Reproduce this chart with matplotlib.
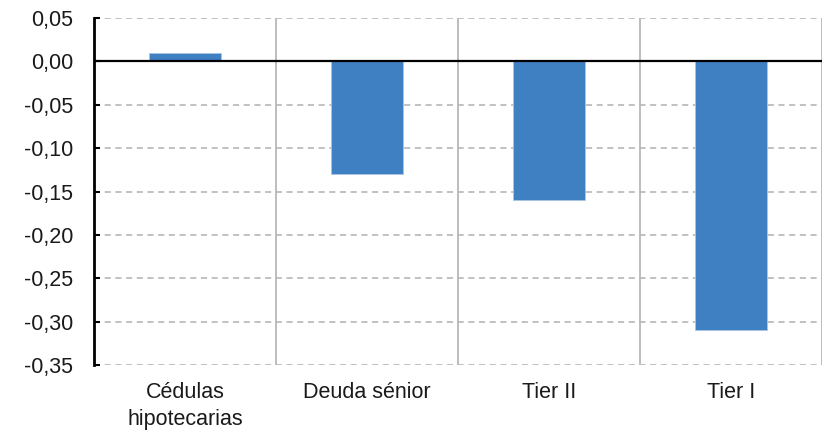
import numpy as np
import matplotlib.pyplot as plt

categorias = ['Cédulas\nhipotecarias', 'Deuda sénior', 'Tier II', 'Tier I']
valores = [0.01, -0.13, -0.16, -0.31]
yticks = [0.05, 0.00, -0.05, -0.10, -0.15, -0.20, -0.25, -0.30, -0.35]

plt.rcParams['font.family'] = ['Liberation Sans', 'DejaVu Sans']

fig = plt.figure(figsize=(8.27, 4.32), dpi=100)
ax = fig.add_axes([94/827, 1 - 365/432, 728/827, 347/432])

x = np.arange(len(categorias))
ax.set_xlim(-0.5, len(categorias) - 0.5)
ax.set_ylim(-0.35, 0.05)

for y in yticks:
    ax.axhline(y, color='#b0b0b0', linestyle=(0, (4, 3)), linewidth=1.1, zorder=1)
for b in np.arange(0.5, len(categorias), 1.0):
    ax.axvline(b, color='#b8b8b8', linewidth=1.3, zorder=1)

ax.bar(x, valores, width=0.4, color='#3f80c3', edgecolor='#a9c6e6', linewidth=0.6, zorder=2)
ax.axhline(0, color='black', linewidth=1.6, zorder=3)

ax.set_yticks(yticks)
ax.set_yticklabels([f'{v:.2f}'.replace('.', ',') for v in yticks], fontsize=15.5, color='#1a1a1a')
ax.set_xticks(x)
ax.set_xticklabels(categorias, fontsize=15.5, color='#1a1a1a', linespacing=1.4)
ax.tick_params(axis='x', length=0, pad=12)
ax.tick_params(axis='y', direction='in', length=4, width=1.5, pad=15)

for s in ['top', 'right', 'bottom']:
    ax.spines[s].set_visible(False)
ax.spines['left'].set_linewidth(2)
ax.spines['left'].set_zorder(4)

fig.savefig('out.png', dpi=100)
